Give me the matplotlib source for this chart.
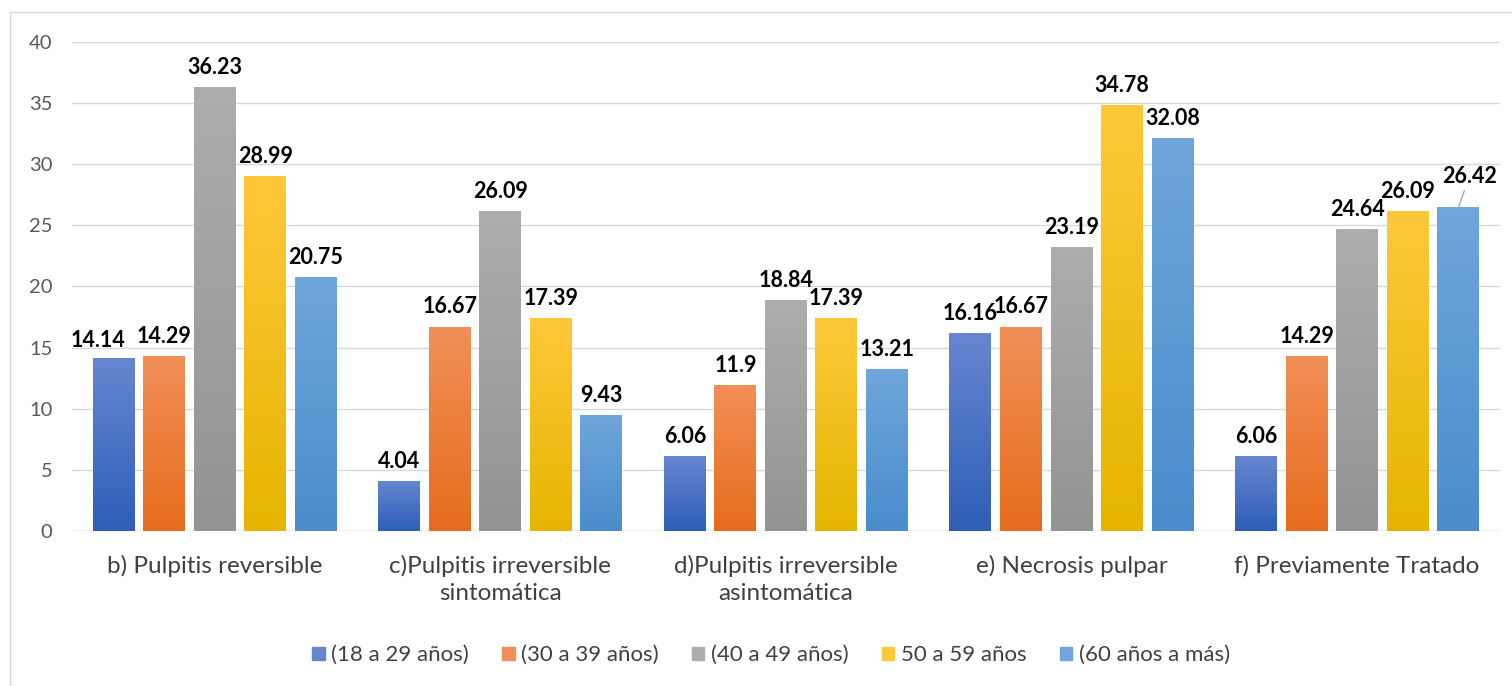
import numpy as np
import matplotlib.pyplot as plt
from matplotlib.colors import LinearSegmentedColormap
from matplotlib.patches import Rectangle

categories = ['b) Pulpitis reversible', 'c)Pulpitis irreversible\nsintomática',
              'd)Pulpitis irreversible\nasintomática', 'e) Necrosis pulpar',
              'f) Previamente Tratado']
series_names = ['(18 a 29 años)', '(30 a 39 años)', '(40 a 49 años)',
                '50 a 59 años', '(60 años a más)']
s18_29 = [14.14, 4.04, 6.06, 16.16, 6.06]
s30_39 = [14.29, 16.67, 11.9, 16.67, 14.29]
s40_49 = [36.23, 26.09, 18.84, 23.19, 24.64]
s50_59 = [28.99, 17.39, 17.39, 34.78, 26.09]
s60 = [20.75, 9.43, 13.21, 32.08, 26.42]
series = [s18_29, s30_39, s40_49, s50_59, s60]
label_texts = [[f'{v:g}' for v in s] for s in series]

# (top, bottom) gradient colours
grads = [('#6686d0', '#2e5eb8'), ('#f28f58', '#e66c1c'), ('#adadad', '#939393'),
         ('#ffc83a', '#e6b400'), ('#6fa6db', '#4a8ccc')]

plt.rcParams['font.family'] = ['Lato', 'DejaVu Sans']

fig = plt.figure(figsize=(15.12, 6.86), dpi=100)
ax = fig.add_axes([0.0476, 0.226, 0.9444, 0.713])
fig.add_artist(Rectangle((0.0066, -0.01), 1.0, 0.993, transform=fig.transFigure,
                         fill=False, edgecolor='#d9d9d9', lw=1))

x = np.arange(len(categories))
width = 0.147
step = 0.177
for i, (vals, name, (ctop, cbot)) in enumerate(zip(series, series_names, grads)):
    pos = x + (i - 2) * step
    bars = ax.bar(pos, vals, width, color=ctop, label=name, zorder=2)
    cmap = LinearSegmentedColormap.from_list('g', [cbot, ctop])
    grad = np.linspace(0, 1, 256).reshape(-1, 1)
    for b in bars:
        b.set_facecolor('none')
        b.set_edgecolor('none')
        x0, h, w = b.get_x(), b.get_height(), b.get_width()
        ax.imshow(grad, cmap=cmap, origin='lower', aspect='auto',
                  extent=[x0, x0 + w, 0, h], zorder=2)
    for j, (p, v) in enumerate(zip(pos, vals)):
        txt = label_texts[i][j]
        if i == 4 and j == 4:
            # label lifted off its bar with a leader line
            ax.annotate(txt, xy=(p, v), xytext=(p + 0.04, v + 2.6),
                        ha='center', va='center', fontsize=15.5, fontweight='bold',
                        arrowprops=dict(arrowstyle='-', color='#a6a6a6', lw=1,
                                        shrinkA=1, shrinkB=0))
        else:
            dx = -11 if (i == 0 and j == 0) else 0  # nudged left, as in the original
            dy = 5 if (i == 0 and j == 0) else 7
            ax.annotate(txt, xy=(p, v), xytext=(dx, dy), textcoords='offset points',
                        ha='center', va='bottom', fontsize=15.5, fontweight='bold')

ax.set_xlim(-0.5, len(categories) - 0.5)
ax.set_ylim(0, 40)
ax.set_yticks(range(0, 41, 5))
ax.set_xticks(x)
ax.set_xticklabels(categories, fontsize=17.5, color='#404040', linespacing=1.35)
ax.tick_params(axis='y', labelsize=14.5, colors='#595959', length=0, pad=14)
ax.tick_params(axis='x', length=0, pad=17)
ax.grid(axis='y', color='#d9d9d9', lw=1, zorder=0)
ax.set_axisbelow(True)
for s in ax.spines.values():
    s.set_visible(False)
ax.axhline(0, color='#d9d9d9', lw=1, zorder=1)

handles = [Rectangle((0, 0), 1, 1, color=c[0]) for c in grads]
fig.legend(handles, series_names, loc='center', bbox_to_anchor=(0.51, 0.045),
           ncol=5, frameon=False, fontsize=16, handlelength=0.55, handleheight=0.55,
           handletextpad=0.3, columnspacing=1.5, labelcolor='#404040')

fig.savefig('out.png', dpi=100)
